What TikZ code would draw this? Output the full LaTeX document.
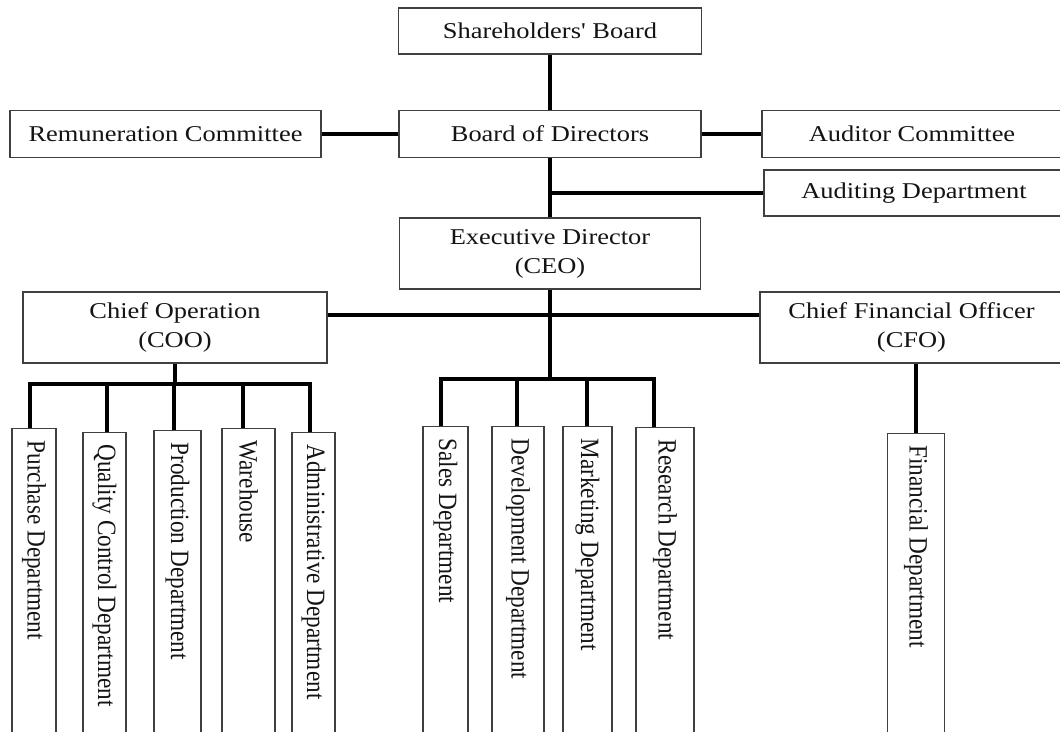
\documentclass[tikz,border=0pt]{standalone}
\usepackage{fontspec}
\setmainfont{Liberation Serif}[FakeStretch=1.17,Ligatures=TeXOff]
\newfontfamily\vfont{Liberation Serif}[FakeStretch=0.88,Ligatures=TeXOff]
\begin{document}
\begin{tikzpicture}[x=1pt,y=-1pt,
  box/.style={draw=black!75,line width=1.2pt,fill=white,inner sep=0pt,align=center,text=black!92,font=\fontsize{22.6}{29}\selectfont},
  vbox/.style={draw=black!75,line width=1.2pt,fill=white,rotate=-90,anchor=west,inner xsep=12pt,inner ysep=0pt,minimum width=340pt,text width=316pt,align=flush left,text=black!92,font=\vfont\fontsize{26.4}{30}\selectfont},
  link/.style={line width=3.6pt,black}]
\useasboundingbox (0,0) rectangle (1060,731);
\fill[white] (0,0) rectangle (1060,731);
\clip (0,0) rectangle (1060,731);

% top level
\node[box,minimum width=303pt,minimum height=46pt] (sh) at (550,31) {Shareholders' Board};
\node[box,minimum width=311pt,minimum height=47pt] (rem) at (165.5,134) {Remuneration Committee};
\node[box,minimum width=302pt,minimum height=47pt] (bod) at (550,134) {Board of Directors};
\node[box,minimum width=300pt,minimum height=47pt] (aud) at (912,134) {Auditor Committee};
\node[box,minimum width=300pt,minimum height=46pt] (adp) at (914,193) {Auditing Department};
\node[box,minimum width=301pt,minimum height=71pt] (ceo) at (550,253.5) {Executive Director\\(CEO)};
\node[box,minimum width=304pt,minimum height=71pt] (coo) at (175,327.5) {Chief Operation\\(COO)};
\node[box,minimum width=303pt,minimum height=71pt] (cfo) at (911.5,327.5) {Chief Financial Officer\\(CFO)};

% departments
\node[vbox,minimum height=44pt] (pur) at (34,428) {Purchase Department};
\node[vbox,minimum height=43pt] (qc) at (104.5,432) {Quality Control Department};
\node[vbox,minimum height=47pt] (pro) at (177.5,430) {Production Department};
\node[vbox,minimum height=53pt] (war) at (248.5,428) {Warehouse};
\node[vbox,minimum height=43pt] (adm) at (313.5,432) {Administrative Department};
\node[vbox,minimum height=45pt] (sal) at (445.5,426) {Sales Department};
\node[vbox,minimum height=52pt] (dev) at (518,426) {Development Department};
\node[vbox,minimum height=49pt] (mkt) at (587.5,426) {Marketing Department};
\node[vbox,minimum height=58pt] (res) at (665,427) {Research Department};
\node[vbox,minimum height=57pt] (fin) at (916,433) {Financial Department};

% junction coordinates
\coordinate (mid) at (550,315);
\coordinate (cbar) at (550,379);
\coordinate (obar) at (175,384);
\coordinate (o1) at (30,384);
\coordinate (o2) at (107,384);
\coordinate (o3) at (174,384);
\coordinate (o4) at (243,384);
\coordinate (o5) at (310,384);
\coordinate (c1) at (441,379);
\coordinate (c2) at (517,379);
\coordinate (c3) at (587,379);
\coordinate (c4) at (654,379);

% connectors
\draw[link] (sh) -- (bod);
\draw[link] (rem) -- (bod);
\draw[link] (bod) -- (aud);
\draw[link] (bod) -- (ceo);
\draw[link] (adp.west) -- (adp.west -| bod.south);
\draw[link] (coo.east |- mid) -- (cfo.west |- mid);
\draw[link] (ceo.south) -- (cbar);
\draw[link] (coo.south) -- (obar);
\draw[link] (o1 |- pur.west) -- (o1) -- (o5) -- (o5 |- adm.west);
\draw[link] (o2) -- (o2 |- qc.west);
\draw[link] (o3) -- (o3 |- pro.west);
\draw[link] (o4) -- (o4 |- war.west);
\draw[link] (c1 |- sal.west) -- (c1) -- (c4) -- (c4 |- res.west);
\draw[link] (c2) -- (c2 |- dev.west);
\draw[link] (c3) -- (c3 |- mkt.west);
\draw[link] (fin.west) -- (fin.west |- cfo.south);
\end{tikzpicture}
\end{document}
